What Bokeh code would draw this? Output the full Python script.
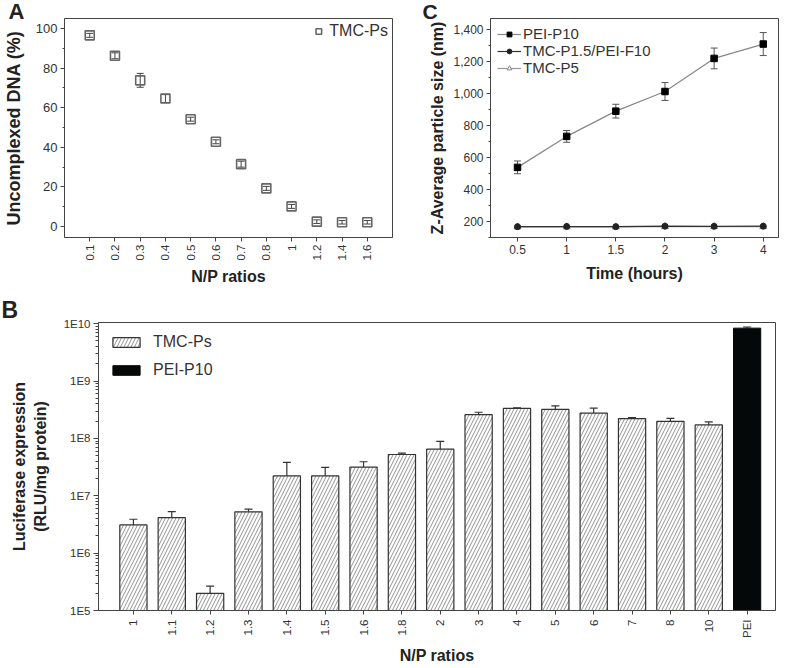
import math
from bokeh.plotting import figure
from bokeh.models import (Range1d, FixedTicker, Whisker, TeeHead, ColumnDataSource,
                          Legend, LegendItem, Title, NumeralTickFormatter)
from bokeh.layouts import column, row
from bokeh.embed import file_html
from bokeh.resources import INLINE

FONT = "Liberation Sans"

# ---------------- Panel A data ----------------
a_ratios = ["0.1", "0.2", "0.3", "0.4", "0.5", "0.6", "0.7", "0.8", "1", "1.2", "1.4", "1.6"]
a_uncomplexed = [96.5, 86.2, 73.8, 64.6, 54.2, 42.8, 31.5, 19.3, 10.2, 2.5, 2.2, 2.2]
a_err = [1.0, 1.5, 3.5, 2.0, 1.0, 1.0, 1.5, 1.0, 1.0, 0.9, 0.9, 0.9]
a_yticks = [0, 20, 40, 60, 80, 100]
a_yminor = [10, 30, 50, 70, 90]

# ---------------- Panel C data ----------------
c_times = ["0.5", "1", "1.5", "2", "3", "4"]
c_pei = [536, 730, 888, 1011, 1218, 1308]
c_pei_err = [40, 37, 43, 56, 65, 72]
c_tmc_pei = [165, 166, 165, 168, 167, 168]
c_tmc_p5 = [163, 164, 163, 165, 165, 165]
c_yticks = [200, 400, 600, 800, 1000, 1200, 1400]
c_yminor = [100, 300, 500, 700, 900, 1100, 1300]

# ---------------- Panel B data ----------------
b_ratios = ["1", "1.1", "1.2", "1.3", "1.4", "1.5", "1.6", "1.8", "2", "3", "4", "5",
            "6", "7", "8", "10"]
b_tmc = [3.1e6, 4.15e6, 1.99e5, 5.26e6, 2.22e7, 2.22e7, 3.17e7, 5.25e7, 6.5e7, 2.59e8,
         3.33e8, 3.2e8, 2.77e8, 2.21e8, 1.99e8, 1.72e8]
b_tmc_err = [0.8e6, 1.15e6, 0.67e5, 0.6e6, 1.6e7, 0.9e7, 0.75e7, 0.3e7, 2.4e7, 0.27e8,
             0.1e8, 0.5e8, 0.6e8, 0.1e8, 0.25e8, 0.22e8]
b_pei_label = ["PEI"]
b_pei = [8.37e9]
b_pei_err = [0.4e9]
b_yticks = [1e5, 1e6, 1e7, 1e8, 1e9, 1e10]
b_ytick_labels = ["1E5", "1E6", "1E7", "1E8", "1E9", "1E10"]


def style(p):
    p.grid.visible = False
    p.outline_line_color = "#444444"
    p.outline_line_width = 1
    p.background_fill_color = "white"
    p.border_fill_color = "white"
    for ax in p.axis:
        ax.axis_line_color = "#444444"
        ax.major_tick_line_color = "#444444"
        ax.minor_tick_line_color = "#444444"
        ax.major_tick_in = 0
        ax.major_tick_out = 4
        ax.minor_tick_in = 0
        ax.minor_tick_out = 2
        ax.major_label_standoff = 3
        ax.major_label_text_font = FONT
        ax.major_label_text_color = "#333333"
        ax.axis_label_text_font = FONT
        ax.axis_label_text_font_style = "bold"
        ax.axis_label_text_color = "#222222"


def panel_letter(p, text, size, offset, standoff, valign):
    p.add_layout(Title(text=text, align="left", offset=offset, standoff=standoff,
                       vertical_align=valign, text_font=FONT, text_font_style="bold",
                       text_font_size=size, text_color="#222222"), "above")


# ================= Panel A =================
ax_idx = list(range(len(a_ratios)))
pa = figure(width=396, height=290, output_backend="svg", toolbar_location=None,
            x_range=Range1d(-1, len(a_ratios)), y_range=Range1d(-5.5, 105),
            min_border_left=58, min_border_right=4, min_border_top=18, min_border_bottom=53)
style(pa)
src_a = ColumnDataSource(dict(x=ax_idx, y=a_uncomplexed,
                              lo=[v - e for v, e in zip(a_uncomplexed, a_err)],
                              hi=[v + e for v, e in zip(a_uncomplexed, a_err)]))
pa.add_layout(Whisker(base="x", lower="lo", upper="hi", source=src_a,
                      line_color="#444444", line_width=1,
                      lower_head=TeeHead(size=7, line_color="#444444", line_width=1),
                      upper_head=TeeHead(size=7, line_color="#444444", line_width=1)))
ra = pa.scatter("x", "y", source=src_a, marker="square", size=9, fill_color=None,
                line_color="#666666", line_width=1.6)
pa.xaxis.ticker = FixedTicker(ticks=ax_idx, minor_ticks=[])
pa.xaxis.major_label_overrides = {i: s for i, s in zip(ax_idx, a_ratios)}
pa.xaxis.major_label_orientation = math.pi / 2
pa.xaxis.major_label_text_font_size = "11.5px"
pa.yaxis.ticker = FixedTicker(ticks=a_yticks, minor_ticks=a_yminor)
pa.yaxis.major_label_text_font_size = "13px"
pa.xaxis.axis_label = "N/P ratios"
pa.yaxis.axis_label = "Uncomplexed DNA (%)"
pa.xaxis.axis_label_text_font_size = "16px"
pa.yaxis.axis_label_text_font_size = "18px"
pa.yaxis.axis_label_standoff = 9
pa.xaxis.axis_label_standoff = 5
leg_a = Legend(items=[LegendItem(label="TMC-Ps", renderers=[ra])], location="top_right",
               border_line_color=None, background_fill_alpha=0,
               label_text_font=FONT, label_text_font_size="16px", label_text_color="#333333",
               glyph_width=14, glyph_height=14, padding=2, margin=4, label_standoff=4)
pa.add_layout(leg_a)
panel_letter(pa, "A", "22px", -56, -14, "top")

# ================= Panel C =================
cx_idx = list(range(len(c_times)))
pc = figure(width=391, height=290, output_backend="svg", toolbar_location=None,
            x_range=Range1d(-0.55, 5.31), y_range=Range1d(97, 1468),
            min_border_left=94, min_border_right=9, min_border_top=15, min_border_bottom=52)
style(pc)
src_c = ColumnDataSource(dict(x=cx_idx, pei=c_pei, tp=c_tmc_pei, t5=c_tmc_p5,
                              lo=[v - e for v, e in zip(c_pei, c_pei_err)],
                              hi=[v + e for v, e in zip(c_pei, c_pei_err)]))
pc.add_layout(Whisker(base="x", lower="lo", upper="hi", source=src_c,
                      line_color="#555555", line_width=1,
                      lower_head=TeeHead(size=7, line_color="#555555", line_width=1),
                      upper_head=TeeHead(size=7, line_color="#555555", line_width=1)))
l1 = pc.line("x", "pei", source=src_c, line_color="#888888", line_width=1.2)
m1 = pc.scatter("x", "pei", source=src_c, marker="square", size=6.5, fill_color="black",
                line_color="black")
l3 = pc.line("x", "t5", source=src_c, line_color="#999999", line_width=1.2)
m3 = pc.scatter("x", "t5", source=src_c, marker="triangle", size=7, fill_color="white",
                line_color="#888888")
l2 = pc.line("x", "tp", source=src_c, line_color="#333333", line_width=1.2)
m2 = pc.scatter("x", "tp", source=src_c, marker="circle", size=6, fill_color="#222222",
                line_color="#222222")
pc.xaxis.ticker = FixedTicker(ticks=cx_idx, minor_ticks=[])
pc.xaxis.major_label_overrides = {i: s for i, s in zip(cx_idx, c_times)}
pc.xaxis.major_label_text_font_size = "12px"
pc.yaxis.ticker = FixedTicker(ticks=c_yticks, minor_ticks=c_yminor)
pc.yaxis.formatter = NumeralTickFormatter(format="0,0")
pc.yaxis.major_label_text_font_size = "12px"
pc.xaxis.axis_label = "Time (hours)"
pc.yaxis.axis_label = "Z-Average particle size (nm)"
pc.xaxis.axis_label_text_font_size = "16px"
pc.yaxis.axis_label_text_font_size = "16px"
pc.yaxis.axis_label_standoff = 4
pc.xaxis.axis_label_standoff = 8
leg_c = Legend(items=[LegendItem(label="PEI-P10", renderers=[l1, m1]),
                      LegendItem(label="TMC-P1.5/PEI-F10", renderers=[l2, m2]),
                      LegendItem(label="TMC-P5", renderers=[l3, m3])],
               location="top_left", border_line_color=None, background_fill_alpha=0,
               label_text_font=FONT, label_text_font_size="15px", label_text_color="#333333",
               glyph_width=24, glyph_height=12, label_height=12, spacing=0,
               padding=2, margin=7, label_standoff=2)
pc.add_layout(leg_c)
panel_letter(pc, "C", "21px", -68, -12, "top")

# ================= Panel B =================
bx_idx = list(range(len(b_ratios)))
px_idx = [len(b_ratios)]
all_labels = b_ratios + b_pei_label
all_idx = bx_idx + px_idx
pb = figure(width=787, height=377, output_backend="svg", toolbar_location=None,
            y_axis_type="log",
            x_range=Range1d(-0.91, len(all_labels) - 1 + 0.74), y_range=Range1d(1e5, 1.05e10),
            min_border_left=98, min_border_right=12, min_border_top=32, min_border_bottom=53)
style(pb)
panel_letter(pb, "B", "23px", -97, 0, "bottom")
src_b = ColumnDataSource(dict(x=bx_idx, top=b_tmc, hi=[v + e for v, e in zip(b_tmc, b_tmc_err)]))
src_p = ColumnDataSource(dict(x=px_idx, top=b_pei, hi=[v + e for v, e in zip(b_pei, b_pei_err)]))
rb = pb.vbar(x="x", top="top", bottom=1e5, width=0.71, source=src_b,
             fill_color="white", line_color="#333333", line_width=1.2,
             hatch_pattern="/", hatch_color="#777777", hatch_scale=7, hatch_weight=0.8)
rp = pb.vbar(x="x", top="top", bottom=1e5, width=0.71, source=src_p,
             fill_color="#050808", line_color="#050808", line_width=1)
for s in (src_b, src_p):
    pb.add_layout(Whisker(base="x", lower="top", upper="hi", source=s,
                          line_color="#333333", line_width=1.2, lower_head=None,
                          upper_head=TeeHead(size=8, line_color="#333333", line_width=1.2)))
pb.xaxis.ticker = FixedTicker(ticks=all_idx, minor_ticks=[])
pb.xaxis.major_label_overrides = {i: s for i, s in zip(all_idx, all_labels)}
pb.xaxis.major_label_orientation = math.pi / 2
pb.xaxis.major_label_text_font_size = "11.5px"
pb.xaxis.major_label_standoff = 5
b_minor = [k * t for t in b_yticks[:-1] for k in range(2, 10)]
pb.yaxis.ticker = FixedTicker(ticks=b_yticks, minor_ticks=b_minor)
pb.yaxis.major_label_overrides = {t: s for t, s in zip(b_yticks, b_ytick_labels)}
pb.yaxis.major_label_text_font_size = "11.5px"
pb.yaxis.major_tick_out = 5
pb.yaxis.minor_tick_out = 3
pb.xaxis.axis_label = "N/P ratios"
pb.yaxis.axis_label = "Luciferase expression\n(RLU/mg protein)"
pb.xaxis.axis_label_text_font_size = "16px"
pb.yaxis.axis_label_text_font_size = "16px"
pb.yaxis.axis_label_standoff = 12
pb.xaxis.axis_label_standoff = 6
leg_b = Legend(items=[LegendItem(label="TMC-Ps", renderers=[rb]),
                      LegendItem(label="PEI-P10", renderers=[rp])],
               location="top_left", border_line_color=None, background_fill_alpha=0,
               label_text_font=FONT, label_text_font_size="16px", label_text_color="#333333",
               glyph_width=34, glyph_height=12, label_height=16, spacing=10,
               padding=2, margin=11, label_standoff=10)
pb.add_layout(leg_b)

layout = column(row(pa, pc), pb)
open("out.html", "w").write(file_html(layout, INLINE))
